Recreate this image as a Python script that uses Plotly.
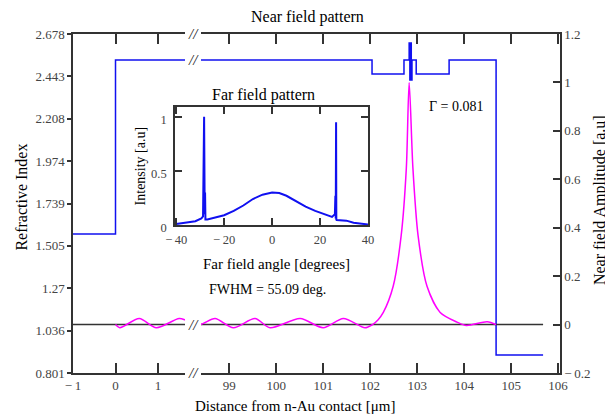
import plotly.graph_objects as go

# ---------------- data ----------------
# refractive index profile (step profile, left axis)
n_x = [-1, 0, 0, 102.04, 102.04, 102.72, 102.72, 102.83, 102.83, 102.845, 102.845, 102.86, 102.86,
       102.875, 102.875, 102.89, 102.89, 102.98, 102.98, 103.68, 103.68, 104.68, 104.68, 105.68]
n_val = [1.571, 1.571, 2.534, 2.534, 2.456, 2.456, 2.534, 2.534, 2.628, 2.628, 2.423, 2.423, 2.628,
         2.628, 2.423, 2.423, 2.534, 2.534, 2.456, 2.456, 2.534, 2.534, 0.90, 0.90]

# near field amplitude (right axis)
nf_x = [0, 0.1, 0.56, 0.96, 1.5, 1.75, 98.2, 98.45, 98.7, 99.09, 99.55, 99.87, 100.51, 101.0, 101.43,
        101.89, 102.05, 102.17, 102.28, 102.49, 102.66, 102.77, 102.83, 102.91, 103.02, 103.21,
        103.49, 103.85, 104.05, 104.49, 104.68]
nf_val = [0.0, -0.013, 0.025, -0.013, 0.025, 0.015, -0.013, 0.005, 0.025, -0.013, 0.025, -0.013, 0.025,
          -0.013, 0.025, -0.013, 0.0, 0.02, 0.05, 0.158, 0.367, 0.646, 1.0, 0.646, 0.367, 0.158,
          0.05, 0.01, -0.004, 0.012, 0.0]

# zero reference line
zero_x = [-1, 105.68]
zero_val = [0, 0]

# far field pattern (inset)
ff_angle = [-40, -36, -32, -29.5, -28.8, -28.35, -28.25, -28.1, -27.95, -27.8, -27.0, -24, -20, -16, -12,
            -8, -4, 0, 3, 6, 10, 14, 18, 22, 25, 26.2, 26.4, 26.55, 26.7, 26.8, 26.95, 28, 31, 34, 37, 40]
ff_int = [0.01, 0.02, 0.035, 0.06, 0.08, 1.0, 0.1, 0.1, 0.3, 0.05, 0.05, 0.07, 0.09, 0.13, 0.18,
          0.24, 0.28, 0.30, 0.295, 0.27, 0.22, 0.17, 0.13, 0.10, 0.075, 0.1, 0.27, 0.06, 0.95, 0.05,
          0.045, 0.045, 0.04, 0.02, 0.012, 0.005]

MINUS = "\u2212\u2009"
x_left_ticks = [-1, 0, 1]
x_left_text = [MINUS + "1", "0", "1"]
x_right_ticks = [99, 100, 101, 102, 103, 104, 105, 106]
n_ticks = [0.801, 1.036, 1.27, 1.505, 1.739, 1.974, 2.208, 2.443, 2.678]
n_tick_text = ["0.801", "1.036", "1.27", "1.505", "1.739", "1.974", "2.208", "2.443", "2.678"]
amp_ticks = [-0.2, 0, 0.2, 0.4, 0.6, 0.8, 1.0, 1.2]
amp_text = [MINUS + "0.2", "0", "0.2", "0.4", "0.6", "0.8", "1", "1.2"]
ff_xticks = [-40, -20, 0, 20, 40]
ff_xtext = [MINUS + "40", MINUS + "20", "0", "20", "40"]
ff_yticks = [0, 0.5, 1]
ff_ytext = ["0", "0.5", "1"]

# ---------------- figure ----------------
SERIF = "Liberation Serif"
BLUE = "#1010f0"
PINK = "#ff00ff"
AX = "#333333"
TICKF = dict(family=SERIF, size=13, color="#444444")
TICKF_IN = dict(family=SERIF, size=12.5, color="#444444")

fig = go.Figure()

for xa in ["x", "x2"]:
    fig.add_trace(go.Scatter(x=zero_x, y=zero_val, xaxis=xa, yaxis="y2", mode="lines",
                             line=dict(color="#333333", width=1.5), showlegend=False, hoverinfo="skip"))
    fig.add_trace(go.Scatter(x=n_x, y=n_val, xaxis=xa, yaxis="y", mode="lines",
                             line=dict(color=BLUE, width=1.5), showlegend=False))
    fig.add_trace(go.Scatter(x=nf_x, y=nf_val, xaxis=xa, yaxis="y2", mode="lines",
                             line=dict(color=PINK, width=1.5, shape="spline", smoothing=0.8),
                             showlegend=False))

fig.add_trace(go.Scatter(x=ff_angle, y=ff_int, xaxis="x3", yaxis="y3", mode="lines",
                         line=dict(color=BLUE, width=2), showlegend=False))

common_x = dict(showline=True, linecolor=AX, linewidth=1.5, mirror="ticks", ticks="inside",
                ticklen=10, tickcolor=AX, tickwidth=1.5, showgrid=False, zeroline=False,
                tickfont=TICKF, anchor="y")

# page body has an 8px margin: figure is sized/offset to compensate
fig.update_layout(
    width=605, height=408,
    margin=dict(l=65, r=53, t=26, b=43, autoexpand=False),
    paper_bgcolor="white", plot_bgcolor="rgba(0,0,0,0)",
    xaxis=dict(domain=[0, 0.230], range=[-1, 1.635], tickvals=x_left_ticks, ticktext=x_left_text,
               **common_x),
    xaxis2=dict(domain=[0.2628, 1], range=[98.4, 106.04], tickvals=x_right_ticks,
                ticktext=[str(v) for v in x_right_ticks], **common_x),
    yaxis=dict(domain=[0, 1], range=[0.801, 2.678], anchor="x", tickvals=n_ticks, ticktext=n_tick_text,
               showline=True, linecolor=AX, linewidth=1.5, ticks="outside", ticklen=4, tickcolor=AX,
               tickwidth=1.5, showgrid=False, zeroline=False, tickfont=TICKF),
    yaxis2=dict(overlaying="y", side="right", anchor="x2", range=[-0.2, 1.2], tickvals=amp_ticks,
                ticktext=amp_text, showline=True, linecolor=AX, linewidth=1.5, ticks="inside",
                ticklen=7, tickcolor=AX, tickwidth=1.5, showgrid=False, zeroline=False, tickfont=TICKF),
    xaxis3=dict(domain=[0.2094, 0.6057], anchor="y3", range=[-40.5, 40], tickvals=ff_xticks,
                ticktext=ff_xtext, showline=True, linecolor=AX, linewidth=1.5, mirror="ticks",
                ticks="inside", ticklen=7, tickcolor=AX, tickwidth=1.5, showgrid=False, zeroline=False,
                tickfont=TICKF_IN, ticklabelstandoff=2),
    yaxis3=dict(domain=[0.4366, 0.7847], anchor="x3", range=[0, 1.09], tickvals=ff_yticks,
                ticktext=ff_ytext, showline=True, linecolor=AX, linewidth=1.5, mirror="ticks",
                ticks="inside", ticklen=7, tickcolor=AX, tickwidth=1.5, showgrid=False, zeroline=False,
                tickfont=TICKF_IN, ticklabelshift=3, ticklabelstandoff=4),
)

def ann(text, x, y, size, xref="paper", yref="paper", angle=0, color="black"):
    fig.add_annotation(text=text, x=x, y=y, xref=xref, yref=yref, showarrow=False, textangle=angle,
                       xanchor="center", yanchor="middle",
                       font=dict(family=SERIF, size=size, color=color))

# plot area: 487 x 339 px
ann("Near field pattern", 0.481, 1.05, 16)
ann("Distance from n-Au contact [\u03bcm]", 0.456, -0.097, 15)
ann("Refractive Index", -0.105, 0.52, 16, angle=-90)
ann("Near field Amplitude [a.u]", 1.082, 0.51, 16, angle=-90)
ann("Far field pattern", 0.392, 0.82, 16)
ann("Far field angle [degrees]", 0.417, 0.322, 15)
ann("Intensity [a.u]", 0.138, 0.61, 14, angle=-90)
ann("FWHM = 55.09 deg.", 0.40, 0.245, 14)
ann("\u0393 = 0.081", 0.788, 0.785, 14)

# axis-break marks
BRK = 0.2465
for yv, yr in [(1.0, "paper"), (0.0, "paper"), (2.534, "y"), (0, "y2")]:
    fig.add_annotation(text="<i>//</i>", x=BRK, y=yv, xref="paper", yref=yr, showarrow=False,
                       xanchor="center", yanchor="middle",
                       font=dict(family=SERIF, size=15, color="#222222"))

fig.write_html("out.html")
